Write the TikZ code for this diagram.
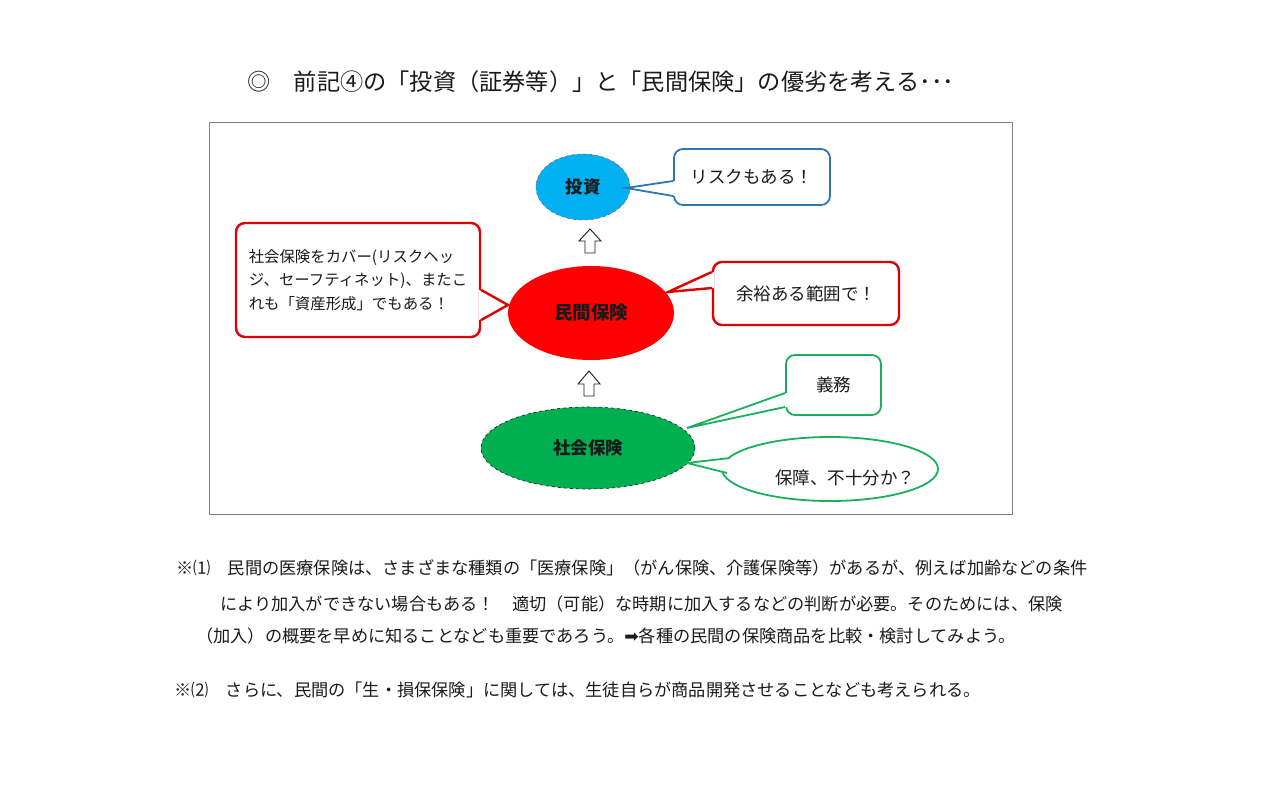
\documentclass[tikz,border=0pt]{standalone}
\usepackage{fontspec}
\setmainfont{Noto Sans CJK JP}
\newfontfamily\symfont{DejaVu Sans}
\usepackage{xcolor}
\usepackage{tikz}
\usetikzlibrary{shapes.geometric, calc}
\definecolor{hkCyan}{HTML}{00B0F0}
\definecolor{hkPlum}{HTML}{8E5A7E}
\definecolor{hkBlue}{HTML}{2E75B6}
\definecolor{hkRed}{HTML}{FF0000}
\definecolor{hkRedLine}{HTML}{E00000}
\definecolor{hkGreen}{HTML}{00B050}
\definecolor{hkGreenLine}{HTML}{1AAF5D}
\definecolor{hkFrame}{HTML}{7F7F7F}
\definecolor{hkInk}{HTML}{1A1A1A}

\begin{document}
\begin{tikzpicture}[x=1pt, y=-1pt, text=hkInk,
  ell/.style={ellipse, inner sep=0pt, font=\fontsize{17.5}{20}\selectfont\bfseries},
  callbox/.style={rounded corners=9pt, fill=white, line width=1.8pt, align=center, font=\fontsize{17.5}{20}\selectfont},
  tail/.style={line width=1.8pt, line join=miter},
  blockarrow/.style={draw=hkInk, fill=white, line width=0.9pt},
  note/.style={anchor=west, inner sep=0pt, font=\fontsize{17.2}{20}\selectfont}]
  \useasboundingbox (0,0) rectangle (1280,794);
  \node[font=\fontsize{23.2}{26}\selectfont] (title) at (601,82) {◎　前記④の「投資（証券等）」と「民間保険」の優劣を考える･･･};
  \draw[hkFrame, line width=0.8pt] (209,122) rectangle (1012,514);

  \node[ell, fill=hkCyan, draw=hkPlum, dashed, line width=0.6pt, minimum width=94, minimum height=66] (toushi) at (583,187) {投資};
  \node[ell, fill=hkRed, minimum width=166, minimum height=94, font=\fontsize{18.5}{20}\selectfont\bfseries] (minkan) at (591,313) {民間保険};
  \node[ell, fill=hkGreen, draw=hkInk, dashed, line width=0.6pt, minimum width=214, minimum height=82] (shakai) at (588,448) {社会保険};

  \draw[blockarrow] (590,253) -- ++(-5,0) -- ++(0,-12) -- ++(-6,0) -- ++(11,-12) -- ++(11,12) -- ++(-6,0) -- ++(0,12) -- cycle;
  \draw[blockarrow] (589,396) -- ++(-5,0) -- ++(0,-12) -- ++(-6,0) -- ++(11,-13) -- ++(11,13) -- ++(-6,0) -- ++(0,12) -- cycle;

  \node[callbox, draw=hkBlue, minimum width=156, minimum height=56] (risk) at (752,177) {リスクもある！};
  \coordinate (riskTip) at (626,188);
  \fill[white] ($(risk.west)+(2,4)$) -- (riskTip) -- ($(risk.west)+(2,19)$) -- cycle;
  \draw[tail, hkBlue] ($(risk.west)+(0,4)$) -- (riskTip) -- ($(risk.west)+(0,19)$);

  \node[callbox, draw=hkRedLine, line width=2.4pt, minimum width=244, minimum height=114, align=left,
    font=\fontsize{15.4}{23.5}\selectfont] (cover) at (358,280)
    {社会保険をカバー(リスクヘッ\\ジ、セーフティネット)、またこ\\れも「資産形成」でもある！};
  \coordinate (coverTip) at (508,305);
  \fill[white] ($(cover.east)+(-2,10)$) -- (coverTip) -- ($(cover.east)+(-2,40)$) -- cycle;
  \draw[tail, hkRedLine, line width=2.4pt] ($(cover.east)+(0,10)$) -- (coverTip) -- ($(cover.east)+(0,40)$);

  \node[callbox, draw=hkRedLine, line width=2.4pt, minimum width=186, minimum height=63] (yoyu) at (806,293.5) {余裕ある範囲で！};
  \coordinate (yoyuTip) at (668,292);
  \fill[white] ($(yoyu.west)+(2,-21.5)$) -- (yoyuTip) -- ($(yoyu.west)+(2,-5.5)$) -- cycle;
  \draw[tail, hkRedLine, line width=2.4pt] ($(yoyu.west)+(0,-21.5)$) -- (yoyuTip) -- ($(yoyu.west)+(0,-5.5)$);

  \node[callbox, draw=hkGreenLine, minimum width=95, minimum height=60] (gimu) at (833.5,385) {義務};
  \coordinate (gimuTip) at (687,428);
  \fill[white] ($(gimu.west)+(2,8)$) -- (gimuTip) -- ($(gimu.west)+(2,22)$) -- cycle;
  \draw[tail, hkGreenLine] ($(gimu.west)+(0,8)$) -- (gimuTip) -- ($(gimu.west)+(0,22)$);

  \node[ellipse, draw=hkGreenLine, fill=white, line width=1.8pt, minimum width=216, minimum height=64] (hosho) at (830,469) {};
  \node[font=\fontsize{17.5}{20}\selectfont] (hoshoText) at (845,478) {保障、不十分か？};
  \coordinate (hoshoTip) at (687,463);
  \fill[white] ($(hosho.center)+(-96,-11)$) -- (hoshoTip) -- ($(hosho.center)+(-99,4)$) -- cycle;
  \draw[tail, hkGreenLine] ($(hosho.center)+(-100,-11)$) -- (hoshoTip) -- ($(hosho.center)+(-103,4)$);

  \node[note] (note1a) at (176,568) {※⑴　民間の医療保険は、さまざまな種類の「医療保険」（がん保険、介護保険等）があるが、例えば加齢などの条件};
  \node[note] (note1b) at (220,604) {により加入ができない場合もある！　適切（可能）な時期に加入するなどの判断が必要。そのためには、保険};
  \node[note] (note1c) at (196,636) {（加入）の概要を早めに知ることなども重要であろう。{\symfont ➡}各種の民間の保険商品を比較・検討してみよう。};
  \node[note] (note2) at (174,690) {※⑵　さらに、民間の「生・損保保険」に関しては、生徒自らが商品開発させることなども考えられる。};
\end{tikzpicture}
\end{document}
